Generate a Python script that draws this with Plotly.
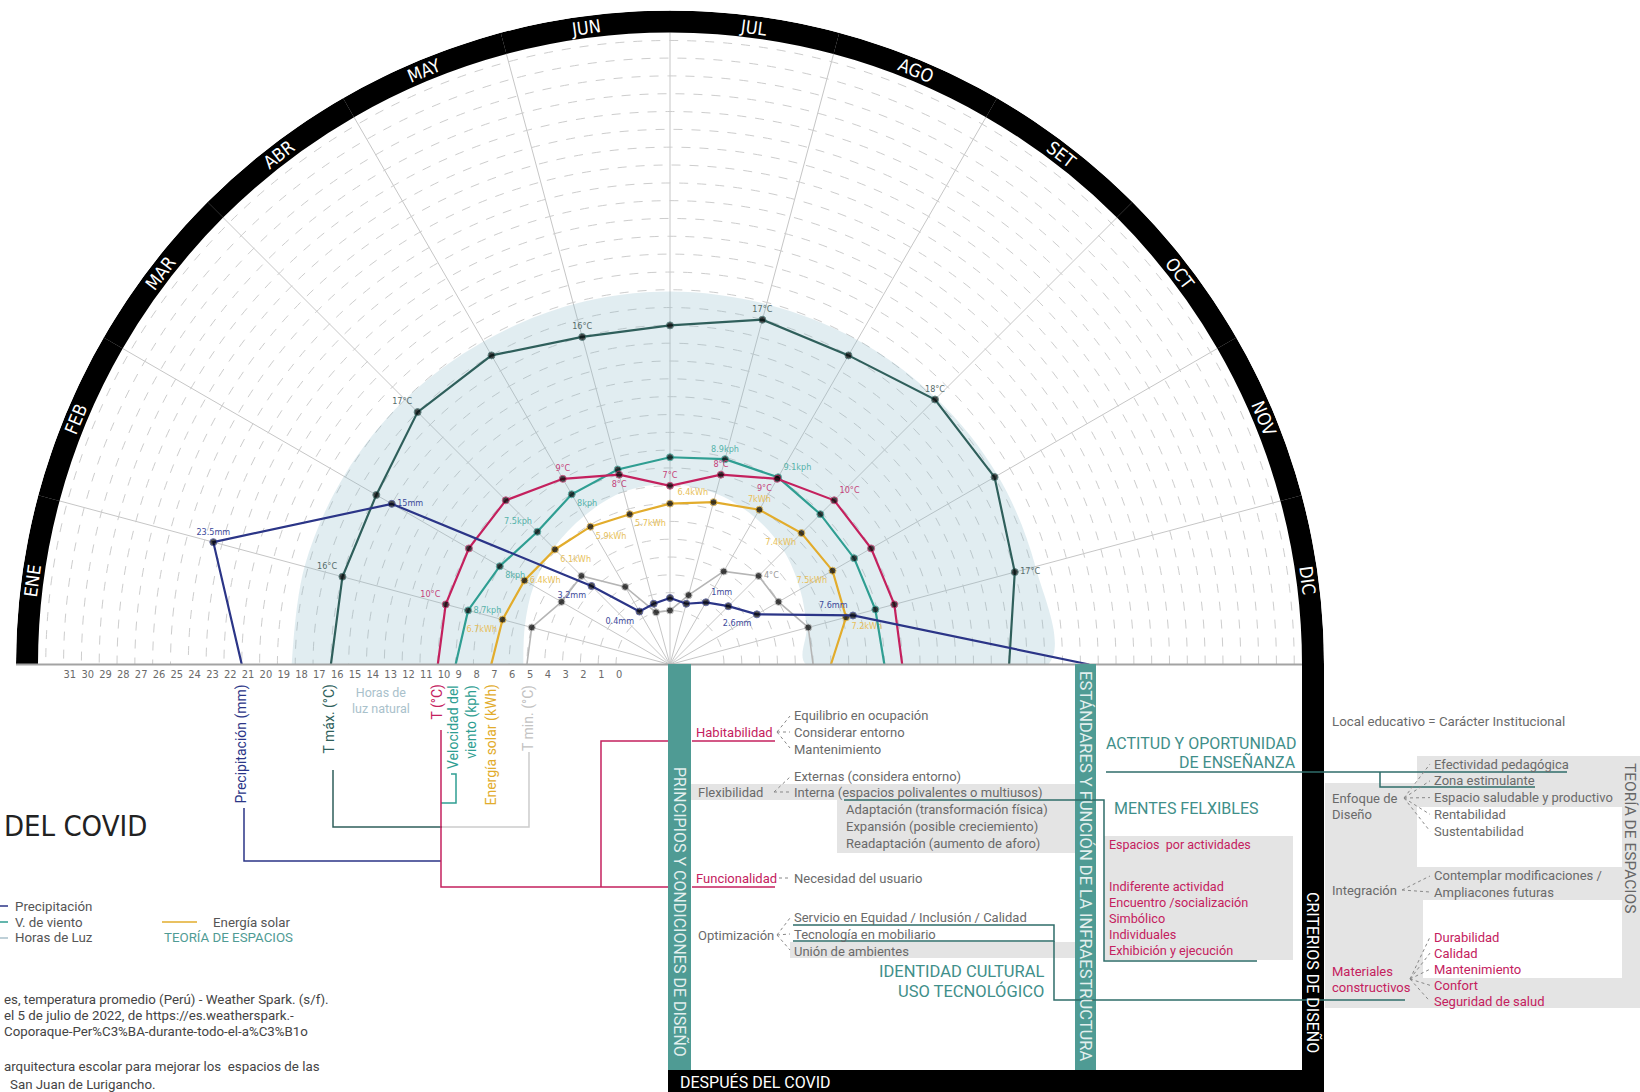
import math
import plotly.graph_objects as go

W, H = 1640, 1092

# ---------------- data ----------------
months = ["ENE", "FEB", "MAR", "ABR", "MAY", "JUN", "JUL", "AGO", "SET", "OCT", "NOV", "DIC"]
month_theta = [172.5, 157.5, 142.5, 127.5, 112.5, 97.5, 82.5, 67.5, 52.5, 37.5, 22.5, 7.5]
theta = [180, 165, 150, 135, 120, 105, 90, 75, 60, 45, 30, 15, 0]

t_max = [16, 16, 16, 17, 17, 16, 16, 17, 17, 18, 18, 17, 16]
t_med = [10, 10, 10, 10, 9, 8, 7, 8, 9, 10, 10, 10, 10]
t_min = [5, 5, 4, 4, 2, 0, 0, 1, 3, 4, 4, 5, 5]
viento = [9, 8.7, 8, 7.5, 8, 8.3, 8.6, 8.9, 9.1, 8.9, 8.9, 8.9, 9]
solar = [7, 6.7, 6.4, 6.1, 5.9, 5.7, 6.0, 6.4, 7.0, 7.4, 7.5, 7.2, 6]
precip = [21, 23.5, 15, 3.2, 0.4, 0.5, 0.7, 0.5, 1, 1.6, 2.6, 7.6, 20.5]
luz_ext = [18.2, 18.2, 18.1, 18.0, 17.9, 17.9, 17.9, 17.9, 18.0, 18.1, 18.2, 18.2, 18.2]
luz_int = [5.2, 5.4, 5.8, 6.2, 6.6, 7.0, 7.1, 6.9, 6.5, 6.0, 5.4, 4.9, 4.6]

t_max_txt = ["", "16°C", "", "17°C", "", "16°C", "", "17°C", "", "18°C", "", "17°C", ""]
t_med_txt = ["", "10°C", "", "", "9°C", "8°C", "7°C", "8°C", "9°C", "10°C", "", "", ""]
t_min_txt = ["", "", "", "", "", "", "", "", "", "4°C", "", "", ""]
viento_txt = ["", "8.7kph", "8kph", "7.5kph", "8kph", "", "", "8.9kph", "9.1kph", "", "", "", ""]
solar_txt = ["", "6.7kWh", "6.4kWh", "6.1kWh", "5.9kWh", "5.7kWh", "", "6.4kWh", "7kWh", "7.4kWh", "7.5kWh", "7.2kWh", ""]
precip_txt = ["", "23.5mm", "15mm", "3.2mm", "0.4mm", "", "", "", "1mm", "", "2.6mm", "7.6mm", ""]

radial_ticks = list(range(0, 32))

# ---------------- geometry / style ----------------
CX, CY = 670.0, 664.5
PX_UNIT = 17.82
R0_PX = 54.0
R_OUT_PX = 654.0
R_IN_PX = 632.0
RMIN = -R0_PX / PX_UNIT
RMAX = (R_OUT_PX - R0_PX) / PX_UNIT
BAND_IN = (R_IN_PX - R0_PX) / PX_UNIT

FONT = "Roboto, 'Liberation Sans', sans-serif"
NARROW = "'Liberation Sans Narrow', 'DejaVu Sans Condensed', Roboto, sans-serif"

C_TMAX = "#2f5f5b"
C_T = "#c4215e"
C_WIND = "#2f9e92"
C_SOLAR = "#e2ac2c"
C_PREC = "#2b3587"
C_TMIN = "#b5b5b5"
C_TEAL_BAR = "#4f9b94"
C_LINE = "#2f6d6a"
C_GREY_TXT = "#6a6a6a"
C_BOX = "#e4e4e4"
C_TEAL_TXT = "#3f8f8a"

fig = go.Figure()

# Horas de luz band
fig.add_trace(go.Scatterpolar(
    r=luz_ext + luz_int[::-1], theta=theta + theta[::-1],
    mode="lines", fill="toself", fillcolor="rgba(140,186,202,0.26)",
    line=dict(width=0, shape="spline"), hoverinfo="skip", showlegend=False))

# black month band
fig.add_trace(go.Barpolar(
    r=[RMAX - BAND_IN] * len(months), base=[BAND_IN] * len(months),
    theta=month_theta, width=[15] * len(months),
    marker=dict(color="black", line=dict(width=0)), hoverinfo="skip", showlegend=False))

msize = [0] + [7] * 11 + [0]


def series(r, txt, color, tcolor, pos, lw=2.2):
    fig.add_trace(go.Scatterpolar(
        r=r, theta=theta, mode="lines+markers+text", text=txt, textposition=pos,
        textfont=dict(size=9, color=tcolor, family=NARROW),
        line=dict(color=color, width=lw), marker=dict(color="black", size=msize),
        cliponaxis=False, showlegend=False, hoverinfo="skip"))


series(t_min, t_min_txt, C_TMIN, "#9a9a9a", "middle right", 1.6)
series(solar, solar_txt, C_SOLAR, "#e8bf5a",
       ["middle right", "bottom left", "middle right", "bottom right", "bottom right", "bottom right",
        "top center", "top left", "top center", "bottom left", "bottom left", "bottom right", "top center"])
series(viento, viento_txt, C_WIND, "#56b3aa",
       ["middle right", "middle right", "bottom right", "top left", "bottom right", "top center",
        "top center", "top center", "top right", "top center", "top center", "top center", "top center"])
series(t_med, t_med_txt, C_T, "#c4427a",
       ["top left", "top left", "top left", "top left", "top center", "bottom center",
        "top center", "top center", "bottom left", "top right", "top right", "top right", "top right"])
series(t_max, t_max_txt, C_TMAX, "#556b69",
       ["top left", "top left", "top left", "top left", "top left", "top center",
        "top center", "top center", "top center", "top center", "top center", "middle right", "top right"])
series(precip, precip_txt, C_PREC, "#3d4a9a",
       ["top center", "top center", "middle right", "bottom left", "bottom left", "top center",
        "top center", "top center", "top right", "top center", "bottom left", "top left", "top center"])

fig.update_layout(
    width=W, height=H, margin=dict(l=0, r=0, t=0, b=0),
    paper_bgcolor="white", plot_bgcolor="white", showlegend=False,
    font=dict(family=FONT, color=C_GREY_TXT),
    polar=dict(
        domain=dict(x=[(CX - R_OUT_PX) / W, (CX + R_OUT_PX) / W],
                    y=[1 - CY / H, 1 - (CY - R_OUT_PX) / H]),
        sector=[0, 180], bgcolor="rgba(0,0,0,0)", hole=0,
        radialaxis=dict(range=[RMIN, RMAX], tickvals=radial_ticks + [32],
                        ticktext=[str(v) for v in radial_ticks] + [""],
                        angle=180, tickangle=180, side="counterclockwise", showline=False,
                        gridcolor="#cdcdcd", griddash="dash", gridwidth=1,
                        tickfont=dict(size=11, color="#6a6a6a", family=NARROW),
                        ticks="", layer="below traces"),
        angularaxis=dict(rotation=0, direction="counterclockwise",
                         tickvals=list(range(0, 181, 15)), showticklabels=False,
                         ticks="", showline=False, gridcolor="#c6c6c6", gridwidth=1,
                         layer="below traces"),
    ),
)

shapes = []
annots = []


def X(x):
    return x / W


def Y(y):
    return 1 - y / H


def rect(x0, y0, x1, y1, fill):
    shapes.append(dict(type="rect", xref="paper", yref="paper", x0=X(x0), x1=X(x1),
                       y0=Y(y1), y1=Y(y0), fillcolor=fill, line=dict(width=0), layer="above"))


def path(pts, color, w=1.5, dash="solid"):
    d = "M " + " L ".join(f"{X(a):.5f},{Y(b):.5f}" for a, b in pts)
    shapes.append(dict(type="path", xref="paper", yref="paper", path=d,
                       line=dict(color=color, width=w, dash=dash), layer="above"))


def txt(x, y, s, size=13, color=C_GREY_TXT, xa="left", ya="middle", angle=0, family=FONT, align="left"):
    annots.append(dict(x=X(x), y=Y(y), xref="paper", yref="paper", text=s, showarrow=False,
                       xanchor=xa, yanchor=ya, textangle=angle, align=align,
                       font=dict(size=size, color=color, family=family)))


# month labels on the black band
RM = (R_IN_PX + R_OUT_PX) / 2
for m, a in zip(months, month_theta):
    ar = math.radians(a)
    txt(CX + RM * math.cos(ar), CY - RM * math.sin(ar), m, 18, "white",
        xa="center", ya="middle", angle=90 - a, family=NARROW)

# baseline
path([(CX - R_OUT_PX, CY), (CX + R_IN_PX, CY)], "#a3a3a3", 2)

# grey boxes
rect(690, 784, 1075, 800, C_BOX)
rect(837, 800, 1075, 853, C_BOX)
rect(790, 942, 1075, 958, C_BOX)
rect(1104, 836, 1293, 960, C_BOX)
rect(1325, 783, 1417, 1008, C_BOX)
rect(1417, 756, 1640, 1008, C_BOX)
rect(1417, 807, 1622, 867, "white")
rect(1423, 900, 1622, 978, "white")

# bars
rect(668, 664, 691, 1070, C_TEAL_BAR)
rect(1075, 664, 1096, 1070, C_TEAL_BAR)
rect(1302, 664, 1324, 1092, "black")
rect(668, 1070, 1324, 1092, "black")
txt(680, 912, "PRINCIPIOS Y CONDICIONES DE DISEÑO", 16, "rgba(255,255,255,0.85)", "center", "middle", 90)
txt(1086, 866, "ESTÁNDARES Y FUNCIÓN DE LA INFRAESTRUCTURA", 16.5, "rgba(255,255,255,0.85)", "center", "middle", 90)
txt(1313, 972, "CRITERIOS DE DISEÑO", 16, "white", "center", "middle", 90)
txt(678, 1082, "DESPUÉS DEL COVID", 16, "white", "left", "middle")
txt(1630, 838, "TEORÍA DE ESPACIOS", 15.5, "#666", "center", "middle", 90)

# axis series labels under the chart
txt(241, 683, "Precipitación (mm)", 14, C_PREC, "center", "top", -90)
txt(329, 683, "T máx. (°C)", 14, C_TMAX, "center", "top", -90)
txt(381, 700, "Horas de<br>luz natural", 12.5, "#a9c1cb", "center", "middle", align="center")
txt(437, 683, "T (°C)", 14, C_T, "center", "top", -90)
txt(462, 683, "Velocidad del<br>viento (kph)", 14, C_WIND, "center", "top", -90, align="right")
txt(491, 683, "Energía solar (kWh)", 14, C_SOLAR, "center", "top", -90)
txt(528, 683, "T min. (°C)", 14, "#c2c2c2", "center", "top", -90)

# connectors under the chart
path([(244, 808), (244, 861), (441, 861)], C_PREC)
path([(333, 770), (333, 827), (442, 827)], C_TMAX)
path([(529, 752), (529, 827), (442, 827)], "#cccccc")
path([(451, 774), (456, 774), (456, 803), (441, 803)], C_WIND)
path([(441, 730), (441, 887), (668, 887)], C_T)
path([(601, 887), (601, 741), (668, 741)], C_T)
path([(692, 741), (775, 741)], C_T)
path([(692, 887), (775, 887)], C_T)

# left legend / title
txt(2, 826, "DEL COVID", 29, "#222", "left", "middle", family=NARROW)
path([(0, 906), (8, 906)], C_PREC)
path([(0, 922), (8, 922)], C_WIND)
path([(0, 938), (8, 938)], "#a9c1cb")
txt(13, 906, "Precipitación", 13.3, "#555")
txt(13, 922, "V. de viento", 13.3, "#555")
txt(13, 938, "Horas de Luz", 13.3, "#555")
path([(162, 922), (197, 922)], C_SOLAR)
txt(211, 922, "Energía solar", 13.3, "#555")
txt(162, 938, "TEORÍA DE ESPACIOS", 13.3, "#4f9b94")

FN = 13.3
txt(2, 999, "es, temperatura promedio (Perú) - Weather Spark. (s/f).", FN, "#444")
txt(2, 1015, "el 5 de julio de 2022, de https://es.weatherspark.-", FN, "#444")
txt(2, 1031, "Coporaque-Per%C3%BA-durante-todo-el-a%C3%B1o", FN, "#444")
txt(2, 1066, "arquitectura escolar para mejorar los  espacios de las", FN, "#444")
txt(8, 1084, "San Juan de Lurigancho.", FN, "#444")

# middle panel texts
txt(694, 732, "Habitabilidad", 13, C_T)
txt(792, 715, "Equilibrio en ocupación")
txt(792, 732, "Considerar entorno")
txt(792, 749, "Mantenimiento")
path([(777, 732), (790, 716)], "#888", 1, "dot")
path([(777, 732), (790, 732)], "#888", 1, "dot")
path([(777, 732), (790, 748)], "#888", 1, "dot")

txt(696, 792, "Flexibilidad")
txt(792, 776, "Externas (considera entorno)")
txt(792, 792, "Interna (espacios polivalentes o multiusos)")
path([(774, 792), (790, 777)], "#888", 1, "dot")
path([(774, 792), (790, 792)], "#888", 1, "dot")
txt(844, 809, "Adaptación (transformación física)")
txt(844, 826, "Expansión (posible creciemiento)")
txt(844, 843, "Readaptación (aumento de aforo)")

txt(694, 878, "Funcionalidad", 13, C_T)
path([(779, 878), (790, 878)], "#888", 1, "dot")
txt(792, 878, "Necesidad del usuario")

txt(696, 935, "Optimización")
txt(792, 917, "Servicio en Equidad / Inclusión / Calidad")
txt(792, 934, "Tecnología en mobiliario")
txt(792, 951, "Unión de ambientes")
path([(777, 935), (790, 918)], "#888", 1, "dot")
path([(777, 935), (790, 934)], "#888", 1, "dot")
path([(777, 935), (790, 950)], "#888", 1, "dot")
txt(1046, 972, "IDENTIDAD CULTURAL", 16.5, C_TEAL_TXT, "right")
txt(1046, 991, "USO TECNOLÓGICO", 16.5, C_TEAL_TXT, "right")

path([(844, 800), (1104, 800), (1104, 961), (1257, 961)], C_LINE)
path([(793, 925), (1054, 925), (1054, 941), (793, 941)], C_LINE)
path([(1054, 941), (1054, 1000), (1405, 1000)], C_LINE)

# right of second bar
txt(1298, 743, "ACTITUD Y OPORTUNIDAD", 16, C_TEAL_TXT, "right")
txt(1298, 762, "DE ENSEÑANZA", 16, C_TEAL_TXT, "right")
path([(1106, 772), (1567, 772)], C_LINE)
path([(1380, 772), (1380, 787), (1535, 787)], C_LINE)
txt(1112, 808, "MENTES FELXIBLES", 16, C_TEAL_TXT)
txt(1107, 844, "Espacios  por actividades", 12.5, C_T)
for i, s in enumerate(["Indiferente actividad", "Encuentro /socialización", "Simbólico",
                       "Individuales", "Exhibición y ejecución"]):
    txt(1107, 886 + i * 16.2, s, 12.7, C_T)

# right panel
txt(1330, 721, "Local educativo = Carácter Institucional", 13.3)
txt(1330, 798, "Enfoque de")
txt(1330, 814, "Diseño")
for i, s in enumerate(["Efectividad pedagógica", "Zona estimulante", "Espacio saludable y productivo",
                       "Rentabilidad", "Sustentabilidad"]):
    yy = 764 + i * 16.8
    txt(1432, yy, s)
    path([(1404, 798), (1430, yy)], "#888", 1, "dot")
txt(1330, 890, "Integración")
txt(1432, 875, "Contemplar modificaciones /")
txt(1432, 892, "Ampliacones futuras")
path([(1402, 890), (1430, 876)], "#888", 1, "dot")
path([(1402, 890), (1430, 892)], "#888", 1, "dot")
txt(1330, 971, "Materiales", 13, C_T)
txt(1330, 987, "constructivos", 13, C_T)
for i, s in enumerate(["Durabilidad", "Calidad", "Mantenimiento", "Confort", "Seguridad de salud"]):
    yy = 937 + i * 16.1
    txt(1432, yy, s, 13, C_T)
    path([(1410, 979), (1430, yy)], "#888", 1, "dot")

fig.update_layout(shapes=shapes, annotations=annots)

fig.write_html("out.html", include_plotlyjs=True, config={"displayModeBar": False},
               post_script="document.body.style.margin='0';document.body.style.overflow='hidden';")
